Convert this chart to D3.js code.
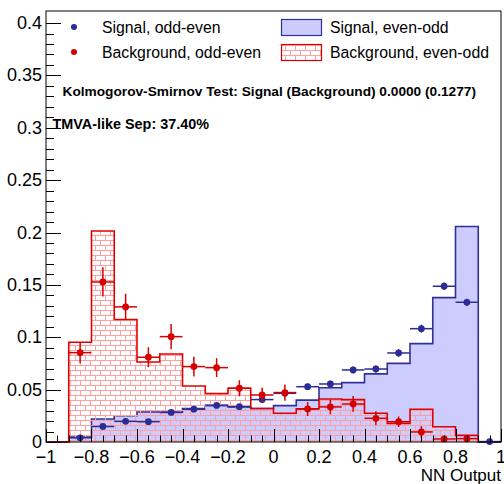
<!DOCTYPE html>
<html>
<head>
<meta charset="utf-8">
<script src="https://cdn.jsdelivr.net/npm/d3@7"></script>
<style>
  html, body { margin: 0; padding: 0; background: #fff; }
  svg { display: block; font-family: "Liberation Sans", Arial, Helvetica, sans-serif; }
</style>
</head>
<body>
<svg id="chart" width="504" height="484"></svg>
<script>
// Bin edges of the NN output histograms (20 bins over [-1, 1])
const binEdges = [-1, -0.9, -0.8, -0.7, -0.6, -0.5, -0.4, -0.3, -0.2, -0.1, 0,
                  0.1, 0.2, 0.3, 0.4, 0.5, 0.6, 0.7, 0.8, 0.9, 1];

// Histograms (even-odd split)
const signalEvenOdd = [0, 0.0048, 0.022, 0.0251, 0.0287, 0.0287, 0.032, 0.035, 0.0335, 0.032,
                       0.0347, 0.040, 0.0518, 0.0567, 0.065, 0.0751, 0.0939, 0.1378, 0.2057, 0];
const backgroundEvenOdd = [0, 0.0952, 0.2015, 0.117, 0.0764, 0.084, 0.0535, 0.0462, 0.0513, 0.032,
                           0.0274, 0.0318, 0.041, 0.0405, 0.0274, 0.0178, 0.0313, 0.0146, 0.0063, 0];

// Points with errors (odd-even split); null = no entry in that bin
const signalOddEven = [null, 0.0040, 0.0148, 0.0197, 0.0194, 0.0282, 0.0313, 0.0349, 0.0337, 0.0405,
                       0.0465, 0.0528, 0.0554, 0.0688, 0.0697, 0.085, 0.1082, 0.1487, 0.1334, 0.0004];
const signalOddEvenErr = [null, 0.0015, 0.002, 0.0022, 0.0022, 0.0025, 0.0026, 0.0027, 0.0027, 0.0028,
                          0.003, 0.003, 0.0031, 0.0034, 0.0034, 0.0036, 0.0038, 0.0035, 0.0034, 0.0003];
const backgroundOddEven = [null, 0.0853, 0.1528, 0.129, 0.0809, 0.1006, 0.072, 0.071, 0.0513, 0.0449,
                           0.0472, 0.0315, 0.0335, 0.0363, 0.0226, 0.0194, 0.0096, 0.0029, 0.0032, null];
const backgroundOddEvenErr = [null, 0.010, 0.014, 0.0125, 0.0095, 0.012, 0.0095, 0.009, 0.0077, 0.007,
                              0.0077, 0.0067, 0.007, 0.0075, 0.0067, 0.005, 0.0055, 0.003, 0.002, null];

// Axis ticks and labels
const xTickValues = [-1, -0.8, -0.6, -0.4, -0.2, 0, 0.2, 0.4, 0.6, 0.8, 1];
const xTickLabels = ["\u22121", "\u22120.8", "\u22120.6", "\u22120.4", "\u22120.2", "0", "0.2", "0.4", "0.6", "0.8", "1"];
const yTickValues = [0, 0.05, 0.1, 0.15, 0.2, 0.25, 0.3, 0.35, 0.4];
const yTickLabels = ["0", "0.05", "0.1", "0.15", "0.2", "0.25", "0.3", "0.35", "0.4"];
const xAxisTitle = "NN Output";

const legendEntries = [
  { label: "Signal, odd-even", kind: "marker", series: "sig" },
  { label: "Background, odd-even", kind: "marker", series: "bkg" },
  { label: "Signal, even-odd", kind: "box", series: "sig" },
  { label: "Background, even-odd", kind: "box", series: "bkg" }
];
const ksText = "Kolmogorov-Smirnov Test: Signal (Background) 0.0000 (0.1277)";
const sepText = "TMVA-like Sep: 37.40%";

// ---- layout & style ----
const W = 504, H = 484;
const margin = { left: 46, right: 3, top: 11, bottom: 42 };
const colors = {
  sigLine: "#30309a", sigFill: "#ccccff", sigMarker: "#2c2c96",
  bkgLine: "#e00000", bkgHatch: "#ffa0a0", bkgMarker: "#d40000"
};

const svg = d3.select("#chart");
const x = d3.scaleLinear().domain([-1, 1]).range([margin.left, W - margin.right]);
const y = d3.scaleLinear().domain([0, 0.4115]).range([H - margin.bottom, margin.top]);

// brick hatch pattern
const defs = svg.append("defs");
const pat = defs.append("pattern")
  .attr("id", "bricks").attr("patternUnits", "userSpaceOnUse")
  .attr("width", 10).attr("height", 10);
pat.append("path")
  .attr("d", "M0,0.5H10M0,5.5H10M0.5,0.5V5.5M5.5,5.5V10.5")
  .attr("stroke", colors.bkgHatch).attr("stroke-width", 1).attr("fill", "none");

// step outline of a histogram
function stepPath(values) {
  let d = `M${x(binEdges[0])},${y(0)}`;
  values.forEach((v, i) => {
    d += `V${y(v)}H${x(binEdges[i + 1])}`;
  });
  d += `V${y(0)}`;
  return d;
}
function areaPath(values) {
  return stepPath(values) + "Z";
}

const plot = svg.append("g");

// signal even-odd histogram
plot.append("path").attr("d", areaPath(signalEvenOdd)).attr("fill", colors.sigFill).attr("stroke", "none");
plot.append("path").attr("d", stepPath(signalEvenOdd)).attr("fill", "none")
  .attr("stroke", colors.sigLine).attr("stroke-width", 1.6);

// background even-odd histogram
plot.append("path").attr("d", areaPath(backgroundEvenOdd)).attr("fill", "url(#bricks)").attr("stroke", "none");
plot.append("path").attr("d", stepPath(backgroundEvenOdd)).attr("fill", "none")
  .attr("stroke", colors.bkgLine).attr("stroke-width", 1.6);

// points with error bars
function drawPoints(values, errs, color) {
  const g = plot.append("g");
  values.forEach((v, i) => {
    if (v === null) return;
    const xc = x((binEdges[i] + binEdges[i + 1]) / 2);
    g.append("line").attr("x1", x(binEdges[i])).attr("x2", x(binEdges[i + 1]))
      .attr("y1", y(v)).attr("y2", y(v)).attr("stroke", color).attr("stroke-width", 1.5);
    g.append("line").attr("x1", xc).attr("x2", xc)
      .attr("y1", y(v - errs[i])).attr("y2", y(v + errs[i])).attr("stroke", color).attr("stroke-width", 1.5);
    g.append("circle").attr("cx", xc).attr("cy", y(v)).attr("r", 3.4).attr("fill", color);
  });
}
drawPoints(signalOddEven, signalOddEvenErr, colors.sigMarker);
drawPoints(backgroundOddEven, backgroundOddEvenErr, colors.bkgMarker);

// frame
svg.append("rect")
  .attr("x", x(-1)).attr("y", y(0.4115))
  .attr("width", x(1) - x(-1)).attr("height", y(0) - y(0.4115))
  .attr("fill", "none").attr("stroke", "#000").attr("stroke-width", 1);

// x axis ticks (inward) and labels
const axes = svg.append("g").attr("stroke", "#000").attr("stroke-width", 1);
d3.range(-1, 1.0001, 0.05).forEach(t => {
  const major = Math.abs(Math.round(t * 5) - t * 5) < 1e-6;
  const len = major ? 13 : 6.5;
  axes.append("line").attr("x1", Math.round(x(t)) + 0.5).attr("x2", Math.round(x(t)) + 0.5)
    .attr("y1", y(0)).attr("y2", y(0) - len);
});
d3.range(0, 0.41, 0.01).forEach(t => {
  const major = Math.abs(Math.round(t * 20) - t * 20) < 1e-6;
  const len = major ? 15 : 8;
  axes.append("line").attr("x1", x(-1)).attr("x2", x(-1) + len)
    .attr("y1", Math.round(y(t)) + 0.5).attr("y2", Math.round(y(t)) + 0.5);
});

const labels = svg.append("g").attr("fill", "#000");
xTickValues.forEach((t, i) => {
  labels.append("text").attr("x", x(t)).attr("y", y(0) + 21)
    .attr("text-anchor", "middle").attr("font-size", "18px").text(xTickLabels[i]);
});
yTickValues.forEach((t, i) => {
  labels.append("text").attr("x", x(-1) - 4).attr("y", y(t) + 6)
    .attr("text-anchor", "end").attr("font-size", "18px").text(yTickLabels[i]);
});
labels.append("text").attr("x", x(1)).attr("y", H - 3)
  .attr("text-anchor", "end").attr("font-size", "17px").text(xAxisTitle);

// legend
const leg = svg.append("g");
const rowY = [27, 52];
legendEntries.forEach((e, i) => {
  const row = i % 2;
  const cy = rowY[row];
  if (e.kind === "marker") {
    leg.append("circle").attr("cx", 74).attr("cy", cy).attr("r", 3)
      .attr("fill", e.series === "sig" ? colors.sigMarker : colors.bkgMarker);
    leg.append("text").attr("x", 102).attr("y", cy + 5.5).attr("font-size", "15.8px").text(e.label);
  } else {
    leg.append("rect").attr("x", 281.5).attr("y", cy - 7.5).attr("width", 40).attr("height", 16)
      .attr("fill", e.series === "sig" ? colors.sigFill : "url(#bricks)")
      .attr("stroke", e.series === "sig" ? colors.sigLine : colors.bkgLine).attr("stroke-width", 1.2);
    leg.append("text").attr("x", 330).attr("y", cy + 5.5).attr("font-size", "15.8px").text(e.label);
  }
});

// statistics annotations
svg.append("text").attr("x", 62.5).attr("y", 95.5).attr("font-size", "13.7px")
  .attr("font-weight", "bold").text(ksText);
svg.append("text").attr("x", 52.5).attr("y", 128.5).attr("font-size", "14.4px")
  .attr("font-weight", "bold").text(sepText);
</script>
</body>
</html>
